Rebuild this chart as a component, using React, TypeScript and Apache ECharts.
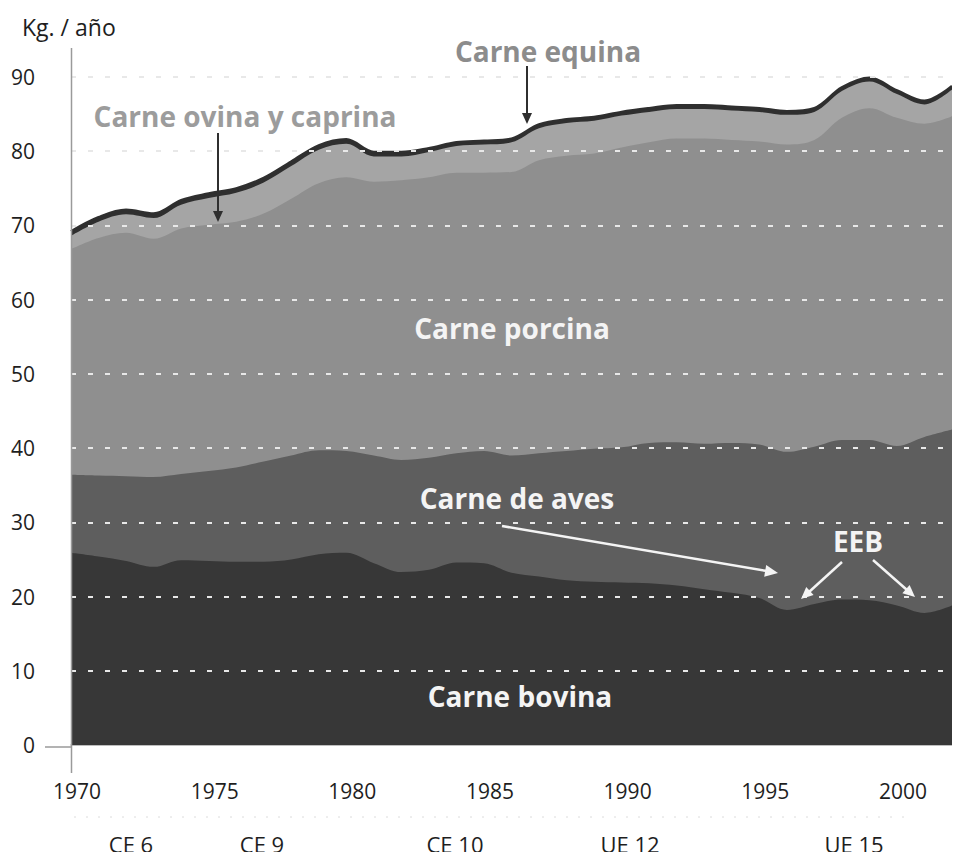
import React, { useEffect, useRef } from "react";
import * as echarts from "echarts";

const years = [
  1970, 1971, 1972, 1973, 1974, 1975, 1976, 1977, 1978, 1979, 1980,
  1981, 1982, 1983, 1984, 1985, 1986, 1987, 1988, 1989, 1990,
  1991, 1992, 1993, 1994, 1995, 1996, 1997, 1998, 1999, 2000, 2001, 2002,
];

const bovina = [
  25.9, 25.4, 24.8, 24.0, 24.9, 24.8, 24.7, 24.7, 25.0, 25.7, 25.9,
  24.5, 23.3, 23.6, 24.6, 24.5, 23.2, 22.7, 22.2, 22.0, 21.9,
  21.8, 21.5, 21.0, 20.5, 19.8, 18.2, 19.0, 19.6, 19.5, 18.8, 17.8, 18.8,
];

const aves = [
  10.5, 10.9, 11.4, 12.1, 11.6, 12.1, 12.7, 13.5, 14.0, 14.0, 13.7,
  14.5, 15.1, 15.1, 14.7, 15.1, 15.8, 16.6, 17.4, 17.9, 18.2,
  18.9, 19.3, 19.6, 20.2, 20.7, 21.3, 21.2, 21.5, 21.6, 21.5, 23.7, 23.7,
];

const porcina = [
  30.4, 32.0, 32.8, 32.1, 33.1, 33.2, 33.1, 33.4, 34.6, 36.0, 36.9,
  36.9, 37.7, 37.8, 37.8, 37.5, 38.2, 39.5, 39.8, 39.8, 40.4,
  40.5, 40.9, 41.1, 40.8, 40.8, 41.4, 41.3, 43.4, 44.7, 44.2, 42.2, 42.2,
];

const ovina = [
  1.8, 2.2, 2.5, 2.8, 3.2, 3.6, 3.9, 4.2, 4.4, 4.5, 4.5,
  3.4, 3.2, 3.4, 3.6, 3.8, 4.0, 4.3, 4.4, 4.4, 4.3,
  4.1, 4.0, 4.0, 4.0, 4.0, 4.0, 3.8, 3.6, 3.6, 3.2, 2.6, 3.6,
];

const equina = [
  0.6, 0.6, 0.6, 0.6, 0.6, 0.6, 0.6, 0.6, 0.6, 0.6, 0.6,
  0.6, 0.6, 0.5, 0.5, 0.5, 0.5, 0.5, 0.5, 0.5, 0.5,
  0.5, 0.5, 0.5, 0.5, 0.5, 0.5, 0.5, 0.5, 0.5, 0.5, 0.5, 0.5,
];

const yTicks = [0, 10, 20, 30, 40, 50, 60, 70, 80, 90];
const xTickLabels = [1970, 1975, 1980, 1985, 1990, 1995, 2000];
const eraLabels = ["CE 6", "CE 9", "CE 10", "UE 12", "UE 15"];
const eraX = [131, 262, 455, 630, 854];

const FONT = "'Open Sans', 'Noto Sans', sans-serif";

export default function App() {
  const ref = useRef<HTMLDivElement>(null);

  useEffect(() => {
    if (!ref.current) return;
    const chart = echarts.init(ref.current, undefined, { renderer: "svg" });

    const layers = [
      { name: "Carne bovina", data: bovina, color: "#373737" },
      { name: "Carne de aves", data: aves, color: "#5e5e5e" },
      { name: "Carne porcina", data: porcina, color: "#8f8f8f" },
      { name: "Carne ovina y caprina", data: ovina, color: "#a5a5a5" },
      { name: "Carne equina", data: equina, color: "#2f2f2f" },
    ];
    const running = years.map(() => 0);
    const cumulative = layers.map((l) =>
      l.data.map((v, i) => {
        running[i] = +(running[i] + v).toFixed(2);
        return running[i];
      })
    );

    const series = layers
      .map((l, k) => ({
        name: l.name,
        type: "line",
        smooth: 0.35,
        symbol: "none",
        data: years.map((y, i) => [y, cumulative[k][i]]),
        lineStyle: k === layers.length - 1 ? { width: 2.5, color: l.color } : { width: 0 },
        areaStyle: { color: l.color, opacity: 1, origin: "start" },
        itemStyle: { color: l.color },
        z: 2 + (layers.length - k),
      }))
      .reverse();

    const arrowHead = (tx: number, ty: number, dx: number, dy: number, color: string, size = 11, half = 5) => {
      const len = Math.sqrt(dx * dx + dy * dy);
      const ux = dx / len, uy = dy / len;
      const bx = tx - ux * size, by = ty - uy * size;
      const px = -uy * half, py = ux * half;
      return {
        type: "polygon",
        shape: { points: [[tx, ty], [bx + px, by + py], [bx - px, by - py]] },
        style: { fill: color },
        z: 20,
      };
    };

    const txt = (text: string, x: number, y: number, color: string, size = 28, weight: any = "bold", align = "center") => ({
      type: "text",
      x,
      y,
      style: {
        text,
        fill: color,
        font: `${weight} ${size}px ${FONT}`,
        align,
        verticalAlign: "middle",
      },
      z: 20,
    });

    const dark = "#2f2f2f";
    const white = "#f4f4f4";

    chart.setOption({
      animation: false,
      backgroundColor: "#ffffff",
      grid: { left: 71, right: 8, top: 77, bottom: 115 },
      xAxis: {
        type: "value",
        min: 1970,
        max: 2002,
        interval: 5,
        axisLine: { show: true, lineStyle: { color: "#a8a8a8", width: 1.5 } },
        axisTick: { show: false },
        splitLine: { show: false },
        axisLabel: {
          margin: 35,
          fontSize: 21,
          color: "#1e1e1e",
          fontFamily: FONT,
          padding: [0, 0, 0, 12],
          formatter: (v: number) => (xTickLabels.includes(v) ? String(v) : ""),
        },
      },
      yAxis: {
        type: "value",
        min: 0,
        max: 90,
        interval: 10,
        z: 10,
        axisLine: { show: false },
        axisTick: { show: false },
        axisLabel: {
          margin: 36,
          fontSize: 21,
          color: "#1e1e1e",
          fontFamily: FONT,
          padding: [10, 0, 0, 0],
          formatter: (v: number) => (yTicks.includes(v) ? String(v) : ""),
        },
        splitLine: {
          show: true,
          showMinLine: false,
          lineStyle: { color: "#e8e8e8", width: 2, type: [5, 12] },
        },
      },
      series,
      graphic: [
        { type: "line", shape: { x1: 71.5, y1: 48, x2: 71.5, y2: 773 }, style: { stroke: "#9a9a9a", lineWidth: 1.5 }, z: 15 },
        { type: "line", shape: { x1: 45, y1: 747, x2: 71, y2: 747 }, style: { stroke: "#9a9a9a", lineWidth: 1.5 }, z: 15 },
        { type: "line", shape: { x1: 74, y1: 817, x2: 905, y2: 817 }, style: { stroke: "#dcdcdc", lineWidth: 1, lineDash: [2, 10] }, z: 15 },
        txt("Kg. / año", 22, 27, "#1e1e1e", 23, "normal", "left"),
        ...eraLabels.map((t, i) => txt(t, eraX[i], 844, "#1e1e1e", 22, "normal")),
        txt("Carne equina", 548, 51, "#8c8c8c", 28),
        txt("Carne ovina y caprina", 245, 116, "#9c9c9c", 28),
        txt("Carne porcina", 512, 328, white, 28),
        txt("Carne de aves", 517, 498, white, 28),
        txt("Carne bovina", 520, 696, white, 28),
        txt("EEB", 858, 541, white, 28),
        { type: "line", shape: { x1: 527, y1: 66, x2: 527, y2: 114 }, style: { stroke: dark, lineWidth: 2 }, z: 20 },
        arrowHead(527, 124, 0, 1, dark),
        { type: "line", shape: { x1: 218, y1: 133, x2: 218, y2: 212 }, style: { stroke: dark, lineWidth: 2 }, z: 20 },
        arrowHead(218, 222, 0, 1, dark),
        { type: "line", shape: { x1: 502, y1: 526, x2: 767, y2: 571 }, style: { stroke: white, lineWidth: 2.5 }, z: 20 },
        arrowHead(778, 573, 276, 47, white, 13, 6),
        { type: "line", shape: { x1: 842, y1: 562, x2: 809, y2: 592 }, style: { stroke: white, lineWidth: 2.5 }, z: 20 },
        arrowHead(801, 599, -41, 37, white, 12, 5.5),
        { type: "line", shape: { x1: 873, y1: 560, x2: 907, y2: 590 }, style: { stroke: white, lineWidth: 2.5 }, z: 20 },
        arrowHead(915, 597, 42, 37, white, 12, 5.5),
      ],
    });

    return () => chart.dispose();
  }, []);

  return <div ref={ref} style={{ width: 960, height: 860, margin: -8 }} />;
}
